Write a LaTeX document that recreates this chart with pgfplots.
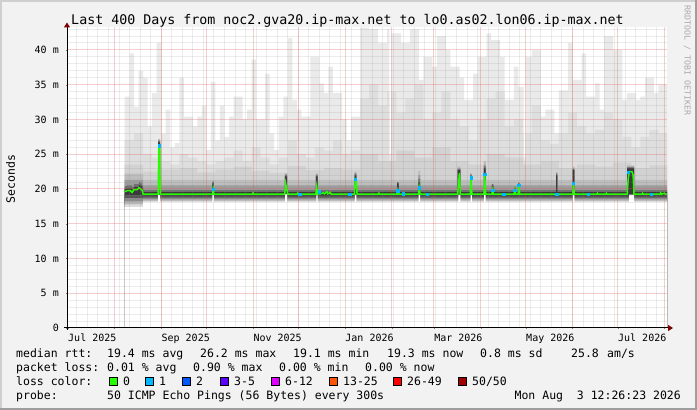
\documentclass[border=0pt]{standalone}
\usepackage{pgfplots}
\pgfplotsset{compat=1.18}
\usepackage{fontspec}
\usetikzlibrary{arrows.meta}
\setmainfont{DejaVu Sans Mono}
\newfontfamily\mono{DejaVu Sans Mono}

\definecolor{bgc}{HTML}{F2F2F2}
\definecolor{shadea}{HTML}{CFCFCF}
\definecolor{shadeb}{HTML}{9E9E9E}
\definecolor{mgrid}{HTML}{DE5050}
\definecolor{gridc}{HTML}{8F8F8F}
\definecolor{arrowc}{HTML}{7F0000}
\definecolor{wmark}{HTML}{AAAAAA}
% loss colours
\definecolor{l0}{HTML}{26FF00}
\definecolor{l1}{HTML}{00B8FF}
\definecolor{l2}{HTML}{0059FF}
\definecolor{l3}{HTML}{5E00FF}
\definecolor{l6}{HTML}{DD00FF}
\definecolor{l13}{HTML}{FF5500}
\definecolor{l26}{HTML}{FF0000}
\definecolor{l50}{HTML}{A10000}
% smoke shades
\definecolor{sA}{HTML}{EAEAEA}
\definecolor{sB}{HTML}{DEDEDE}
\definecolor{sC}{HTML}{D2D2D2}
\definecolor{sD}{HTML}{BDBDBD}
\definecolor{sE}{HTML}{9C9C9C}
\definecolor{sF}{HTML}{707070}
\definecolor{sG}{HTML}{3A3A3A}
\definecolor{sH}{HTML}{555555}
\definecolor{sI}{HTML}{8C8C8C}
\definecolor{sJ}{HTML}{B8B8B8}
\definecolor{sK}{HTML}{DEDEDE}

\newcommand{\legfont}{\mono\fontsize{11.5}{11.5}\selectfont}

\begin{document}
\begin{tikzpicture}
\useasboundingbox (0,0) rectangle (697pt,410pt);
\fill[bgc] (0,0) rectangle (697pt,410pt);
\fill[shadea] (0,408pt) rectangle (697pt,410pt);
\fill[shadea] (0,0) rectangle (2pt,410pt);
\fill[shadeb] (0,0) rectangle (697pt,2pt);
\fill[shadeb] (695pt,0) rectangle (697pt,410pt);

\begin{axis}[
    at={(67pt,82pt)}, anchor=south west,
    scale only axis, width=600pt, height=301pt,
    xmin=-0.53, xmax=397.7, ymin=0, ymax=43.3,
    axis background/.style={fill=white},
    axis on top,
    axis x line=bottom, axis y line=left,
    axis line style={draw=black, line width=1pt},
    x axis line style={-{Triangle[length=5pt,width=6pt,color=arrowc]}, shorten >=-6pt, shorten <=-3pt},
    y axis line style={-{Triangle[length=5pt,width=6pt,color=arrowc]}, shorten >=-4.5pt, shorten <=-2pt},
    % month starts, labelled every second month
    xtick={0,31,62,92,123,153,184,215,243,274,304,335,365,396},
    xticklabels={Jul 2025,,Sep 2025,,Nov 2025,,Jan 2026,,Mar 2026,,May 2026,,Jul 2026,},
    minor xtick={6,13,...,398},
    ytick={0,5,...,40},
    yticklabels={0,5 m,10 m,15 m,20 m,25 m,30 m,35 m,40 m},
    minor ytick={1,2,3,4,6,7,8,9,11,12,13,14,16,17,18,19,21,22,23,24,26,27,28,29,31,32,33,34,36,37,38,39,41,42,43},
    grid=both,
    major grid style={draw=mgrid, draw opacity=0.28, line width=1pt},
    minor grid style={draw=gridc, draw opacity=0.17, line width=1pt},
    major tick length=2pt, minor tick length=0pt,
    tick label style={font=\mono\fontsize{10}{10}\selectfont},
    xticklabel style={anchor=base, inner sep=0pt, yshift=-13pt, xshift=24.5pt},
    yticklabel style={anchor=east, inner sep=0pt, xshift=-7pt},
]

% smoke, lightest (max) first
\addplot[const plot, draw=none, fill=sA] coordinates {
(37.65,33.3)(41,39.5)(44,31.8)(47,37)(50,36)(53,29)(56,33.8)(59,41)(62,28)(65,31.4)
(68,26)(71,26.6)(74,36)(77,30.4)(80,30.4)(83,29)(86,30.4)(89,32)(92,25.6)(95,35.4)
(98,27)(101,32)(104,27.5)(107,30.4)(110,33.3)(113,33.3)(116,30)(119,31.4)(122,38.6)(125,30)
(128,30)(131,36.6)(134,28)(137,25.6)(140,30.4)(143,33.3)(146,41.7)(149,32.8)(152,31.4)(155,30.4)
(158,30.4)(161,39)(164,39)(167,35.2)(170,33.8)(173,37.6)(176,33.8)(179,33.8)(182,30)(185,27)
(188,30.4)(191,30.4)(194,43.2)(197,43.2)(200,43)(203,43)(206,41)(209,41)(212,43)(213.5,25)
(214.7,42.4)(218,42.4)(221,41)(224,41)(227,43)(230,43)(233,35.7)(236,39)(239,39)(242,37.6)
(245,42)(248,42)(251,40)(254,37.6)(257,37.6)(260,36)(263,32.8)(266,32.8)(269,36.6)(272,39)
(275,39)(278,42.4)(281,41.4)(284,41.4)(287,39)(290,32.8)(293,32.8)(296,37.6)(299,34.7)(302,34.7)
(302.5,24.6)(303.8,39)(308,40)(311,40)(314,30.4)(317,31.4)(320,31.4)(323,28)(326,34.2)(329,34.2)
(332,41)(335,35.7)(338,35.7)(341,39.5)(344,33.3)(347,33.3)(350,35.2)(353,31.4)(356,42)(359,42)
(362,40)(365,40)(368,32.8)(371,33.8)(374,33.8)(377,32.8)(380,33.3)(383,36)(386,36)(389,33.8)
(392,35)(395,35)(398.52,35)
} \closedcycle;

\addplot[const plot, draw=none, fill=sB] coordinates {
(37.65,27)(44,28)(50,25)(56,24.5)(62,24)(68,23.5)(74,25)(80,24.5)(86,24)(92,23.5)
(98,24)(104,24.5)(110,25.5)(116,24)(122,26)(128,24.5)(134,23.5)(140,24.5)(146,27)(152,25)
(158,24.5)(164,26)(170,25.5)(176,27)(182,25)(188,25.5)(194,33)(200,35)(206,32)(212,34)
(213.5,24)(214.7,34)(218,31)(224,33)(230,35)(236,30)(242,31)(248,34)(254,30)(260,29)
(266,27)(272,30)(278,33)(284,34)(290,29)(296,30)(302,28)(302.5,24)(303.8,28)(308,32)
(314,27)(320,26.5)(326,28)(332,31)(338,29)(344,28)(350,28.5)(356,31)(362,30)(368,27.5)
(374,26)(380,27.5)(386,28.5)(392,28)(398.52,28)
} \closedcycle;

\addplot[const plot, draw=none, fill=sC] coordinates {
(37.65,23.5)(50,22.5)(62,22.8)(74,23)(86,22.4)(98,22.8)(110,23.2)(122,22.6)(134,22.3)(146,23.3)
(158,22.7)(170,23)(182,22.8)(194,25)(206,24)(218,25.5)(230,24.5)(242,26)(254,24)(266,23.5)
(278,25)(290,24.5)(302,23.5)(314,24)(326,23)(338,23.5)(350,23.2)(362,23.8)(374,23)(386,23.4)
(398.52,23.4)
} \closedcycle;

\addplot[const plot, draw=none, fill=sD] coordinates {
(37.65,22.2)(50,21.3)(60,27.2)(61.3,21.3)(232.4,22.6)(234,21.3)(258.6,23.2)(260.7,21.3)
(276,24)(277.5,21.3)(335,23.2)(336.4,21.3)(371,23.4)(376,21.3)(398.52,21.3)
} \closedcycle;

\addplot[const plot, draw=none, fill=sE] coordinates {
(37.65,21.3)(50,20.5)(60,27)(61.3,20.5)(96,21.2)(97,20.5)(144,22.2)(145.6,20.5)
(164.6,22.2)(165.8,20.5)(190.3,22.4)(191.6,20.5)(232.6,22)(233.8,20.5)(258.8,23)(260.5,20.5)
(267.1,22.2)(268.2,20.5)(276.2,23.5)(277.3,20.5)(324.1,22.4)(325,20.5)(335.1,23)(336.2,20.5)
(371.3,23.2)(375.8,20.5)(398.52,20.5)
} \closedcycle;

\addplot[const plot, draw=none, fill=sF] coordinates {
(37.65,20.4)(39.4,20.5)(42.7,20.3)(43.9,20.7)(47.2,21)(48.3,20.8)(49.4,20.5)(50,19.85)
(60,26.9)(61.3,19.85)(96,21)(97,19.85)(144,22)(145.6,19.85)(164.6,22)(165.8,19.85)
(190.3,22.2)(191.6,19.85)(218.5,21)(219.5,19.85)(232.7,21.5)(233.8,19.85)(258.8,22.85)(260.5,19.85)
(267.1,22)(268.2,19.85)(276.2,23.3)(277.3,19.85)(281.5,20.7)(282.5,19.85)(296.2,20.3)(297.2,19.85)
(298.9,20.9)(299.9,19.85)(324.1,22.2)(325,19.85)(335.1,22.85)(336.2,19.85)(371.3,23.1)(375.8,19.85)
(398.52,19.85)
} \closedcycle;

\addplot[const plot, draw=none, fill=sG] coordinates {
(37.65,20)(39.4,20.1)(42.7,19.9)(43.9,20.3)(47.2,20.6)(48.3,20.4)(49.4,20.1)(50,19.55)
(60,26.7)(61.3,19.55)(96,20.8)(97,19.55)(144,21.8)(145.6,19.55)(164.6,21.8)(165.8,19.55)
(190.3,22)(191.6,19.55)(218.5,20.8)(219.5,19.55)(232.7,21)(233.8,19.55)(258.8,22.7)(260.5,19.55)
(267.1,21.8)(268.2,19.55)(276.2,23)(277.3,19.55)(281.5,20.5)(282.5,19.55)(296.2,20.1)(297.2,19.55)
(298.9,20.7)(299.9,19.55)(324.1,22)(325,19.55)(335.1,22.7)(336.2,19.55)(371.3,23)(375.8,19.55)
(398.52,19.55)
} \closedcycle;

% smoke below the median, painted upward from zero
\addplot[const plot, draw=none, fill=sH] coordinates {(37.65,19.1)(50,19)(398.52,19)} \closedcycle;
\addplot[const plot, draw=none, fill=sI] coordinates {(37.65,18.7)(50,18.75)(398.52,18.75)} \closedcycle;
\addplot[const plot, draw=none, fill=sJ] coordinates {(37.65,18.2)(50,18.5)(398.52,18.5)} \closedcycle;
\addplot[const plot, draw=none, fill=sK] coordinates {(37.65,17.8)(50,18.3)(398.52,18.3)} \closedcycle;
\addplot[const plot, draw=none, fill=white] coordinates {
(37.65,17.4)(50,18.1)(60,19.1)(61.3,18.1)(96,19.3)(97,18.1)(144.3,19.3)(145.6,18.1)
(164.9,19.3)(165.8,18.1)(190.5,19.2)(191.6,18.1)(232.9,19.3)(233.8,18.1)(259.2,19.2)(260.5,18.1)
(267.3,19.3)(268.2,18.1)(276.4,19.3)(277.3,18.1)(335.3,19.3)(336.2,18.1)(372.5,19.2)(375.8,18.1)
(398.52,18.1)
} \closedcycle;

% median rtt
\addplot[draw=l0, line width=1.5pt] coordinates {
(37.65,19.6)(39.4,19.75)(41.6,19.75)(42.7,19.5)(43.9,19.9)(46,19.9)(47.2,20.2)(48.3,20)(49.4,19.8)(50,19.25)
(60,19.25)(60.4,26.2)(61,26.2)(61.3,19.25)
(96,19.25)(96.5,20)(97,19.25)
(122.5,19.25)(123,19.45)(123.6,19.25)
(144,19.25)(144.6,20.8)(145.4,19.9)(146,19.25)
(152,19.25)(152.5,19.4)(153,19.25)
(164.6,19.25)(165.2,20.3)(165.8,19.25)
(166.5,19.3)(167,19.6)(167.6,19.3)(169.5,19.45)(170.3,19.3)(172,19.6)(172.6,19.3)(174.2,19.5)(174.8,19.25)
(190.3,19.25)(190.8,21.4)(191.4,21.2)(192,19.25)
(206,19.25)(206.5,19.4)(207,19.25)
(218.5,19.25)(219,19.75)(219.5,19.25)
(232.7,19.25)(233.2,20.2)(233.8,19.25)
(258.8,19.25)(259.3,20.5)(259.9,22.3)(260.5,19.25)
(267.1,19.25)(267.6,21.6)(268.2,19.25)
(276.2,19.25)(276.7,22.1)(277.3,19.25)
(281.5,19.25)(282,19.85)(282.5,19.25)
(296.2,19.25)(296.7,19.85)(297.2,19.25)
(298.9,19.25)(299.4,20.5)(299.9,19.25)
(335.1,19.25)(335.6,20.8)(336.2,19.25)
(351,19.25)(351.5,19.4)(352,19.25)(357,19.25)(357.5,19.4)(358,19.25)
(371.3,19.25)(371.9,21.3)(372.6,22.5)(374.4,22.5)(375.2,22)(375.8,19.25)
(381,19.25)(381.5,19.4)(382,19.25)(393,19.25)(393.5,19.45)(394,19.25)(396,19.4)(396.5,19.25)
(398.52,19.25)
};

% one lost ping
\addplot[only marks, mark=square*, mark size=1.2pt, mark options={fill=l1, draw=l1}] coordinates {
(60.7,26.2)(96.5,20)(153.9,19.25)(166.9,19.6)(187.2,19.25)(190.8,21.4)(219,19.75)(222.5,19.3)
(233.2,20.2)(238.5,19.25)(267.6,21.6)(276.7,22.1)(282,19.85)(289.2,19.25)(296.7,19.85)(299.4,20.5)
(324.5,19.25)(335.6,20.8)(345.5,19.25)(372,22.4)(387.2,19.25)
};
\end{axis}

% title, unit and watermark
\node[anchor=base, font=\mono\fontsize{13.3}{13.3}\selectfont] at (347.5pt,385.7pt)
  {Last 400 Days from noc2.gva20.ip-max.net to lo0.as02.lon06.ip-max.net};
\node[anchor=base, rotate=90, font=\legfont] at (15pt,231pt) {Seconds};
\node[anchor=base, rotate=-90, text=wmark, font=\mono\fontsize{8.3}{8.3}\selectfont] at (684.5pt,349.5pt)
  {RRDTOOL / TOBI OETIKER};

% legend
\begin{scope}[every node/.style={anchor=base west, inner sep=0pt, font=\legfont}]
\node at (16pt,52pt) {median rtt:};
\node at (107pt,52pt) {19.4 ms avg};
\node at (200pt,52pt) {26.2 ms max};
\node at (293pt,52pt) {19.1 ms min};
\node at (387pt,52pt) {19.3 ms now};
\node at (480pt,52pt) {0.8 ms sd};
\node at (571pt,52pt) {25.8};
\node at (607pt,52pt) {am/s};

\node at (16pt,38pt) {packet loss:};
\node at (107pt,38pt) {0.01 \% avg};
\node at (193pt,38pt) {0.90 \% max};
\node at (279pt,38pt) {0.00 \% min};
\node at (365pt,38pt) {0.00 \% now};

\node at (16pt,24pt) {loss color:};
\foreach \bx/\col/\lab in {109/l0/0, 145/l1/1, 182/l2/2, 220/l3/3-5, 271/l6/6-12, 329/l13/13-25, 393/l26/26-49, 458/l50/{50/50}}{
  \filldraw[fill=\col, draw=black, line width=0.8pt] (\bx pt,24.5pt) rectangle ++(8pt,8pt);
  \node at (\bx pt+14pt,24pt) {\lab};
}

\node at (16pt,10pt) {probe:};
\node at (107pt,10pt) {50 ICMP Echo Pings (56 Bytes) every 300s};
\node[anchor=base east] at (681pt,10pt) {Mon Aug~~3 12:26:23 2026};
\end{scope}
\end{tikzpicture}
\end{document}
